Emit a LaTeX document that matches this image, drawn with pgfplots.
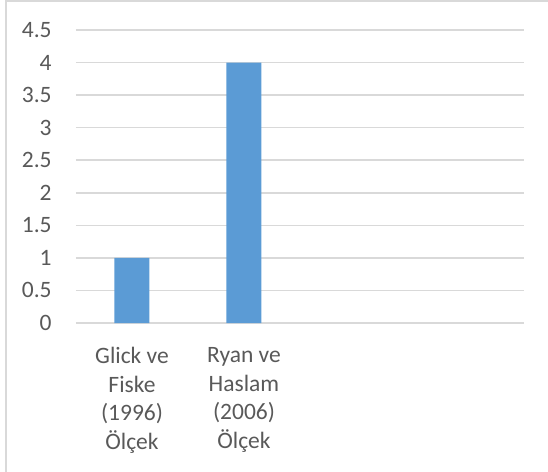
\documentclass[border=0pt]{standalone}
\usepackage{pgfplots}
\pgfplotsset{compat=1.18}
\usepackage{fontspec}
\setmainfont{Carlito}
\definecolor{barblue}{HTML}{5B9BD5}
\definecolor{gridgray}{HTML}{D9D9D9}
\definecolor{txtgray}{HTML}{595959}
\begin{document}
\begin{tikzpicture}[x=1pt,y=1pt]
\useasboundingbox (-38,-74.5) rectangle (236,161.5);
\clip (-38,-74.5) rectangle (236,161.5);
\draw[gridgray, line width=0.75pt] (-35,-90) rectangle (250,161);
\begin{axis}[
  at={(0pt,0pt)}, anchor=south west,
  scale only axis,
  width=224pt, height=146.5pt,
  ybar, bar width=17.5pt,
  xmin=-0.5, xmax=3.5,
  ymin=0, ymax=4.5,
  ytick={0,0.5,1,1.5,2,2.5,3,3.5,4,4.5},
  xtick={0,1},
  xticklabels={{Glick ve\\Fiske\\(1996)\\Ölçek},{Ryan ve\\Haslam\\(2006)\\Ölçek}},
  ymajorgrids,
  major grid style={draw=gridgray, line width=0.75pt},
  axis line style={draw=none},
  major tick length=0pt,
  /pgf/number format/assume math mode=true,
  /pgf/number format/fixed,
  tick label style={text=txtgray, font=\fontsize{11.75}{14.3}\selectfont},
  yticklabel style={anchor=east, inner sep=0pt, xshift=-12pt},
  xticklabel style={anchor=north, inner sep=0pt, align=center, yshift=-12pt},
]
\addplot[fill=barblue, draw=none] coordinates {(0,1) (1,4)};
\end{axis}
\end{tikzpicture}
\end{document}
